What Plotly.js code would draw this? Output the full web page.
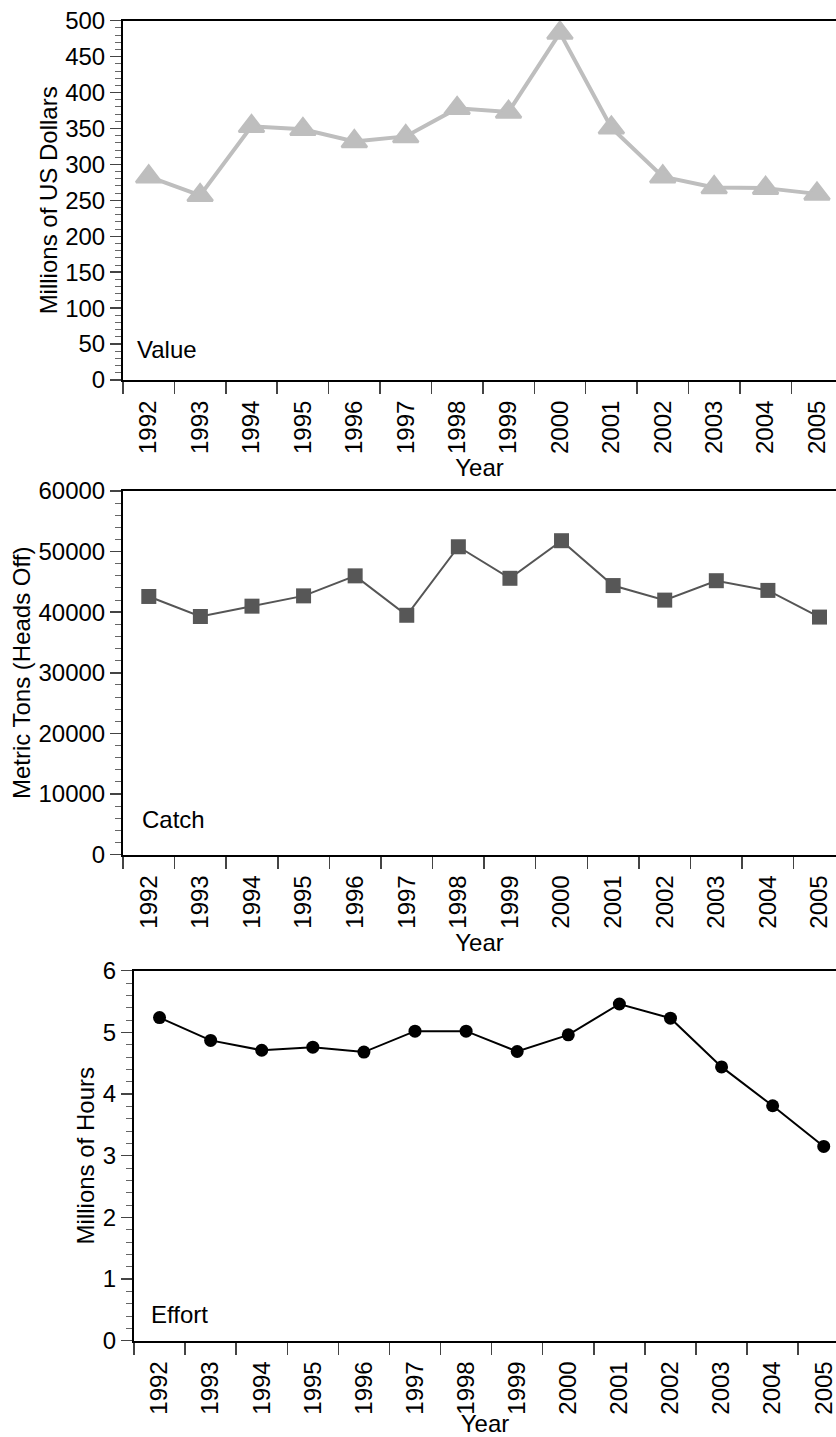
<!DOCTYPE html>
<html>
<head>
<meta charset="utf-8">
<script src="https://cdn.plot.ly/plotly-3.0.1.min.js"></script>
<style>
html,body{margin:0;padding:0;background:#fff;overflow:hidden;}
#chart{width:836px;height:1437px;}
</style>
</head>
<body>
<div id="chart"></div>
<script>
var years = ['1992','1993','1994','1995','1996','1997','1998','1999','2000','2001','2002','2003','2004','2005'];
var valueMillionsUSD = [283, 257, 353, 349, 332, 339, 378, 373, 483, 351, 283, 268, 267, 259];
var catchMetricTons = [42600, 39300, 41000, 42700, 46000, 39500, 50800, 45600, 51800, 44400, 42000, 45200, 43600, 39200];
var effortMillionsHours = [5.24, 4.87, 4.71, 4.76, 4.68, 5.02, 5.02, 4.69, 4.96, 5.46, 5.23, 4.44, 3.81, 3.15];

var panelLabels = ['Value', 'Catch', 'Effort'];
var yTitles = ['Millions of US Dollars', 'Metric Tons (Heads Off)', 'Millions of Hours'];

var H = 1437, W = 836;
var FONT = 'Liberation Sans, Arial, Helvetica, sans-serif';
var FS = 24;

var traces = [
  {x: years, y: valueMillionsUSD, xaxis: 'x', yaxis: 'y', mode: 'lines+markers', cliponaxis: false,
   line: {color: '#bebebe', width: 4},
   marker: {symbol: 'triangle-up', size: 22, color: '#bebebe', line: {color: '#bebebe', width: 2.5}}},
  {x: years, y: catchMetricTons, xaxis: 'x2', yaxis: 'y2', mode: 'lines+markers', cliponaxis: false,
   line: {color: '#555555', width: 2},
   marker: {symbol: 'square', size: 15, color: '#575757'}},
  {x: years, y: effortMillionsHours, xaxis: 'x3', yaxis: 'y3', mode: 'lines+markers', cliponaxis: false,
   line: {color: '#000000', width: 2},
   marker: {symbol: 'circle', size: 13, color: '#000000'}}
];

function xAxis(left, range, anchor) {
  return {
    type: 'category', domain: [left / W, 1], range: range, anchor: anchor,
    showline: true, linecolor: '#000', linewidth: 2, mirror: true,
    ticks: 'outside', tickson: 'boundaries', ticklen: 12, tickwidth: 1.5, tickcolor: '#444',
    tickangle: -90, ticklabelstandoff: 9, tickfont: {family: FONT, size: FS, color: '#000'},
    showgrid: false, zeroline: false, fixedrange: true,
    title: {text: 'Year', font: {family: FONT, size: FS, color: '#000'}, standoff: 3}
  };
}
function yAxis(top, bottom, range, dtick, minor, title, anchor) {
  return {
    domain: [1 - bottom / H, 1 - top / H], range: range, anchor: anchor,
    showline: true, linecolor: '#000', linewidth: 2,
    ticks: 'outside', ticklen: 11, tickwidth: 1.5, tickcolor: '#444', dtick: dtick, tick0: 0,
    tickformat: 'd',
    minor: {dtick: minor, ticks: 'outside', ticklen: 6, tickwidth: 1, tickcolor: '#666', showgrid: false},
    tickfont: {family: FONT, size: FS, color: '#000'},
    showgrid: false, zeroline: false, fixedrange: true,
    title: {text: title, font: {family: FONT, size: FS, color: '#000'}, standoff: 1}
  };
}

var layout = {
  width: W, height: H,
  margin: {l: 0, r: 0, t: 0, b: 0},
  paper_bgcolor: '#fff', plot_bgcolor: '#fff',
  showlegend: false,
  xaxis: xAxis(123, [-0.5, 13.37], 'y'),
  yaxis: yAxis(20.7, 380, [0, 500], 50, 10, yTitles[0], 'x'),
  xaxis2: xAxis(123, [-0.5, 13.32], 'y2'),
  yaxis2: yAxis(491, 854.7, [0, 60000], 10000, 2000, yTitles[1], 'x2'),
  xaxis3: xAxis(134, [-0.5, 13.24], 'y3'),
  yaxis3: yAxis(970.7, 1340.7, [0, 6], 1, 0.2, yTitles[2], 'x3'),
  annotations: [
    {text: panelLabels[0], xref: 'paper', yref: 'paper', x: 135 / W, y: 1 - 349 / H, xanchor: 'left', yanchor: 'middle', showarrow: false, font: {family: FONT, size: FS, color: '#000'}},
    {text: panelLabels[1], xref: 'paper', yref: 'paper', x: 140 / W, y: 1 - 820 / H, xanchor: 'left', yanchor: 'middle', showarrow: false, font: {family: FONT, size: FS, color: '#000'}},
    {text: panelLabels[2], xref: 'paper', yref: 'paper', x: 149 / W, y: 1 - 1314 / H, xanchor: 'left', yanchor: 'middle', showarrow: false, font: {family: FONT, size: FS, color: '#000'}}
  ]
};

Plotly.newPlot('chart', traces, layout, {staticPlot: true, displayModeBar: false});
</script>
</body>
</html>
